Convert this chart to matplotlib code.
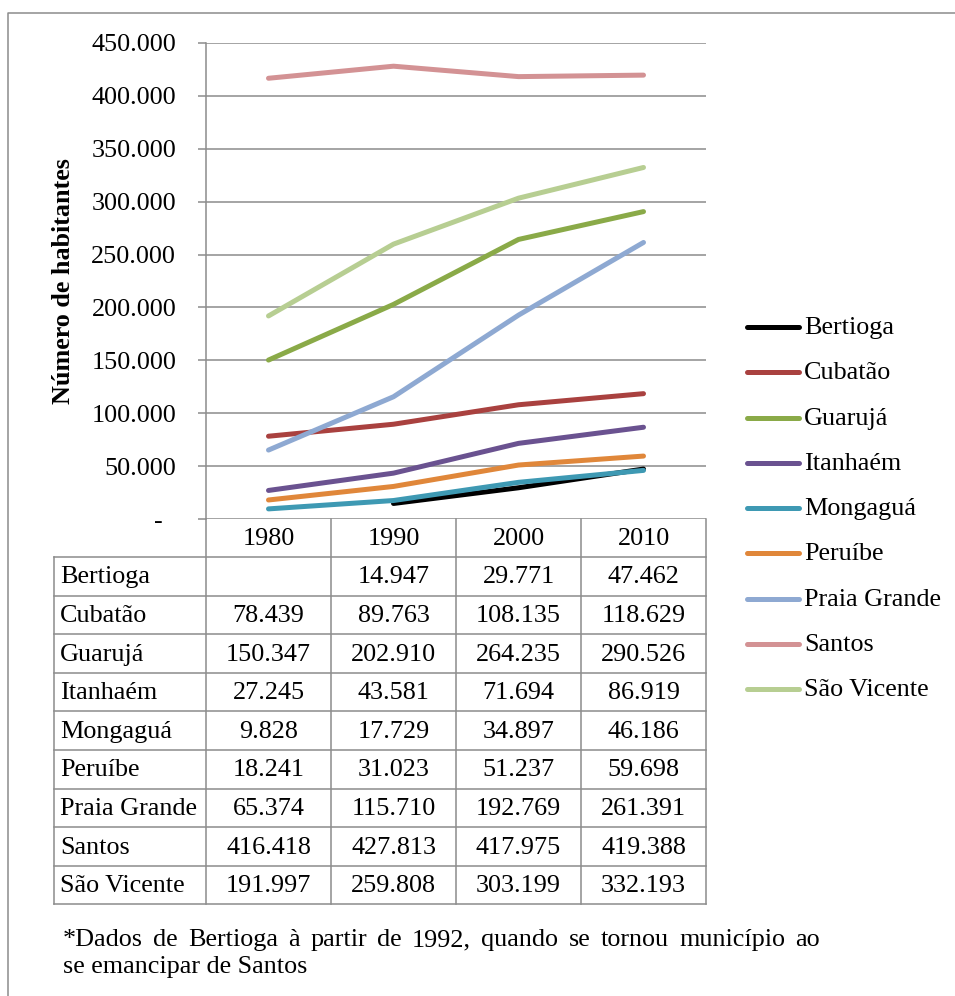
import matplotlib
matplotlib.use("Agg")
import matplotlib.pyplot as plt
import numpy as np

FONT = ["Liberation Serif", "DejaVu Serif"]
plt.rcParams["font.family"] = FONT

W, H = 955, 996          # figure size in pixels (dpi 100)
FS = 18.8                # base font size

years = ["1980", "1990", "2000", "2010"]
cities = ["Bertioga", "Cubatão", "Guarujá", "Itanhaém", "Mongaguá",
          "Peruíbe", "Praia Grande", "Santos", "São Vicente"]
bertioga = [None, 14947, 29771, 47462]
cubatao = [78439, 89763, 108135, 118629]
guaruja = [150347, 202910, 264235, 290526]
itanhaem = [27245, 43581, 71694, 86919]
mongagua = [9828, 17729, 34897, 46186]
peruibe = [18241, 31023, 51237, 59698]
praia_grande = [65374, 115710, 192769, 261391]
santos = [416418, 427813, 417975, 419388]
sao_vicente = [191997, 259808, 303199, 332193]
series = [bertioga, cubatao, guaruja, itanhaem, mongagua,
          peruibe, praia_grande, santos, sao_vicente]
colors = ["#000000", "#A9413F", "#8AAA48", "#6A5290", "#3E99B3",
          "#E0873A", "#8EA9D2", "#D39294", "#B7CE92"]
note_line1 = "*Dados de Bertioga à partir de 1992, quando se tornou município ao"
note_line2 = "se emancipar de Santos"

GRID = "#8c8c8c"
LW = 3.6


def fmt(v):
    return f"{v:,}".replace(",", ".")


fig = plt.figure(figsize=(W / 100, H / 100), dpi=100)

# overlay in pixel coordinates for frame, table and legend
ov = fig.add_axes([0, 0, 1, 1])
ov.set_xlim(0, W)
ov.set_ylim(H, 0)
ov.axis("off")

# chart area
X0, X1 = 206, 706
Y_TOP, Y_ZERO = 42.7, 519.3
ax = fig.add_axes([X0 / W, 1 - Y_ZERO / H, (X1 - X0) / W, (Y_ZERO - Y_TOP) / H])
ax.patch.set_alpha(0)
ax.set_xlim(-0.5, 3.5)
ax.set_ylim(0, 450000)
x = np.arange(len(years))
for vals, c in zip(series, colors):
    y = np.array([np.nan if v is None else v for v in vals], dtype=float)
    ax.plot(x, y, color=c, lw=LW, solid_capstyle="round", solid_joinstyle="round", zorder=3)

yt = np.arange(0, 450001, 50000)
ax.set_yticks(yt)
ax.set_yticklabels(["-  "] + [fmt(v) for v in yt[1:]], fontsize=FS, family=FONT)
ax.tick_params(axis="y", direction="out", length=5.5, width=1.1, color=GRID, pad=16)
ax.set_xticks([])
ax.yaxis.grid(True, color=GRID, lw=1.1)
ax.set_axisbelow(True)
for s in ("top", "right", "bottom"):
    ax.spines[s].set_visible(False)
ax.spines["left"].set_color(GRID)
ax.spines["left"].set_linewidth(1.1)
ax.set_ylabel("Número de habitantes", fontsize=FS, fontweight="bold", family=FONT)
ax.yaxis.set_label_coords(-0.262, 0.5)

# data table below the chart
TL, ROW_H, HDR_BOT = 54, 38.6, 557.0
col_w = (X1 - X0) / len(years)
tbl_bot = HDR_BOT + ROW_H * len(cities)
for k in range(len(years) + 1):
    xx = X0 + k * col_w
    ov.plot([xx, xx], [Y_ZERO, tbl_bot], color=GRID, lw=1.1)
for r in range(len(cities) + 1):
    yy = HDR_BOT + r * ROW_H
    ov.plot([TL, X1], [yy, yy], color=GRID, lw=1.1)
ov.plot([TL, TL], [HDR_BOT, tbl_bot], color=GRID, lw=1.1)

for j, yr in enumerate(years):
    ov.text(X0 + (j + 0.5) * col_w, (Y_ZERO + HDR_BOT) / 2 + 1, yr,
            ha="center", va="center", fontsize=FS, family=FONT)
for r, (name, vals) in enumerate(zip(cities, series)):
    cy = HDR_BOT + (r + 0.5) * ROW_H + 1
    ov.text(TL + 6, cy, name, ha="left", va="center", fontsize=FS, family=FONT)
    for j, v in enumerate(vals):
        if v is None:
            continue
        ov.text(X0 + (j + 0.5) * col_w, cy, fmt(v),
                ha="center", va="center", fontsize=FS, family=FONT)

# legend
LY0, LDY = 327, 45.25
for i, (name, c) in enumerate(zip(cities, colors)):
    ly = LY0 + i * LDY
    ov.plot([747, 799], [ly, ly], color=c, lw=LW, solid_capstyle="round")
    ov.text(804, ly + 1, name, ha="left", va="center", fontsize=FS, family=FONT)

# footnote: first line justified between x=63 and x=820
renderer = fig.canvas.get_renderer()
words = note_line1.split(" ")
items = [ov.text(0, 940, w, ha="left", va="center", fontsize=FS, family=FONT) for w in words]
widths = [t.get_window_extent(renderer).width for t in items]
gap = (820 - 63 - sum(widths)) / (len(words) - 1)
xpos = 63
for t, w in zip(items, widths):
    t.set_x(xpos)
    xpos += w + gap
ov.text(63, 967, note_line2, ha="left", va="center", fontsize=FS, family=FONT)

# outer frame
ov.plot([8, 8, W + 5], [H + 5, 13, 13], color=GRID, lw=1.1, clip_on=False)

fig.savefig("out.png", dpi=100)
